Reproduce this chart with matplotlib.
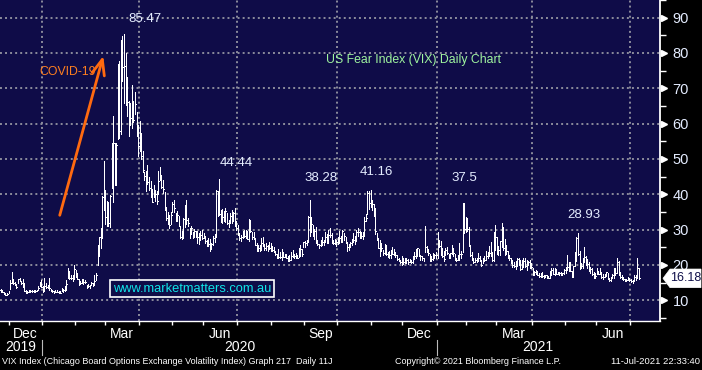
import numpy as np
import matplotlib
matplotlib.use('Agg')
import matplotlib.pyplot as plt
from matplotlib.patches import Polygon
from matplotlib.transforms import blended_transform_factory

SANS = ['Liberation Sans', 'DejaVu Sans']

C_BG = '#0f0c48'
C_GRID = '#8c8c9c'
C_TXT = '#e4ecff'

# trading days per month, Nov-2019 (from the 20th) .. Jul-2021 (to the 9th)
month_names = ['Nov', 'Dec', 'Jan', 'Feb', 'Mar', 'Apr', 'May', 'Jun', 'Jul', 'Aug', 'Sep',
               'Oct', 'Nov', 'Dec', 'Jan', 'Feb', 'Mar', 'Apr', 'May', 'Jun', 'Jul']
month_years = [2019, 2019, 2020, 2020, 2020, 2020, 2020, 2020, 2020, 2020, 2020,
               2020, 2020, 2020, 2021, 2021, 2021, 2021, 2021, 2021, 2021]
month_days = [7, 21, 21, 19, 22, 21, 20, 22, 22, 21, 21, 22, 20, 22, 19, 19, 23, 21, 20, 22, 6]

# daily VIX high / low / close
vix_high = [
    14.0, 13.3, 12.9, 12.4, 11.9, 12.0, 12.7,
    15.6, 17.99, 16.0, 15.1, 14.5, 15.9, 16.3, 15.4, 16.1, 15.0, 12.8, 12.7, 12.9, 12.9, 12.8, 12.8, 13.0, 12.9, 13.9, 15.2, 15.7,
    14.0, 16.2, 14.9, 14.2, 16.2, 13.2, 12.9, 12.6, 13.0, 12.9, 12.5, 12.5, 13.5, 13.2, 14.1, 15.6, 19.02, 18.4, 17.2, 17.0, 19.99,
    18.5, 17.6, 16.0, 15.3, 15.9, 16.0, 15.6, 14.4, 14.7, 14.4, 15.2, 14.9, 17.1, 17.8, 25.6, 28.0, 30.5, 39.6, 49.48,
    41.1, 38.2, 37.9, 39.9, 54.4, 62.1, 54.5, 54.6, 76.8, 77.6, 83.56, 84.8, 85.47, 79.98, 73.2, 66.4, 65.8, 71.0, 66.3, 69.0, 63.2, 59.6,
    60.6, 57.2, 52.3, 46.4, 46.7, 48.3, 45.0, 43.8, 41.6, 42.7, 41.2, 40.8, 46.5, 47.7, 45.5, 44.0, 40.6, 36.3, 35.0, 34.2, 35.0,
    37.9, 38.4, 34.6, 35.3, 33.9, 31.0, 29.7, 33.4, 37.0, 38.3, 33.4, 30.5, 30.9, 29.4, 30.2, 29.7, 29.7, 28.9, 29.7, 30.0,
    28.9, 28.3, 26.9, 27.5, 27.2, 26.2, 28.1, 28.6, 41.1, 41.0, 44.44, 35.6, 35.7, 35.2, 36.2, 34.6, 32.6, 34.7, 35.6, 35.0, 36.0, 32.3,
    31.2, 29.0, 28.5, 29.5, 30.0, 30.0, 29.6, 33.0, 32.7, 29.2, 29.2, 27.6, 26.3, 25.7, 25.5, 27.6, 28.0, 26.0, 26.3, 25.5, 26.5, 26.3,
    25.2, 25.1, 23.9, 23.1, 24.5, 23.6, 24.4, 23.6, 23.0, 23.0, 22.6, 22.8, 23.5, 24.3, 23.0, 23.3, 22.8, 24.8, 25.6, 24.6, 26.6,
    26.7, 27.0, 33.9, 38.28, 33.6, 31.3, 30.1, 30.6, 27.1, 26.0, 27.1, 27.9, 26.9, 29.4, 28.6, 29.9, 30.3, 29.0, 27.0, 27.3, 27.0,
    27.8, 29.6, 28.2, 30.0, 29.1, 27.9, 26.5, 25.8, 26.4, 27.3, 28.9, 28.2, 29.9, 30.3, 29.5, 29.2, 29.4, 33.6, 34.5, 40.8, 41.0, 41.16,
    38.5, 37.1, 36.1, 29.1, 27.4, 27.0, 26.1, 24.3, 25.8, 25.6, 23.6, 24.0, 24.2, 25.0, 24.6, 23.5, 22.7, 21.8, 21.4, 22.6,
    21.9, 22.0, 21.9, 21.6, 21.7, 21.3, 22.4, 23.6, 24.6, 24.8, 24.5, 22.8, 22.6, 22.0, 31.0, 25.2, 24.4, 23.0, 22.6, 23.3, 23.0, 23.6,
    29.2, 26.9, 26.8, 24.9, 23.9, 24.9, 25.1, 23.2, 23.3, 25.6, 24.9, 23.1, 21.9, 22.9, 26.3, 24.0, 37.5, 37.4, 33.6,
    33.2, 30.6, 25.4, 23.6, 22.0, 21.9, 22.0, 23.4, 22.5, 21.3, 22.0, 22.6, 23.8, 23.7, 25.2, 26.5, 23.6, 29.2, 31.2,
    28.0, 25.3, 26.7, 31.8, 30.8, 27.4, 25.6, 24.0, 22.9, 22.0, 21.5, 20.7, 21.0, 22.0, 21.8, 21.3, 21.3, 21.9, 22.0, 21.4, 21.2, 21.3, 20.5,
    19.0, 18.4, 18.6, 18.4, 17.6, 17.6, 17.9, 17.2, 17.1, 17.1, 16.9, 18.4, 19.2, 19.2, 19.0, 18.8, 18.0, 18.1, 18.0, 17.7, 18.8,
    19.4, 22.7, 20.9, 20.8, 18.4, 19.7, 23.7, 27.8, 28.93, 24.0, 20.4, 21.9, 25.1, 22.5, 21.6, 20.7, 19.4, 19.0, 18.0, 17.7,
    19.0, 18.4, 19.2, 18.0, 17.5, 17.3, 18.0, 17.8, 16.3, 16.7, 17.3, 19.2, 19.0, 21.8, 21.1, 18.0, 17.0, 16.6, 16.0, 16.1, 16.6, 16.2,
    16.1, 15.7, 17.0, 17.0, 21.99, 19.2,
]
vix_low = [
    12.2, 12.4, 12.2, 11.7, 11.4, 11.4, 11.9,
    13.2, 15.0, 14.5, 14.2, 13.5, 14.9, 15.4, 14.7, 13.6, 12.5, 11.9, 12.1, 12.3, 12.3, 12.3, 12.4, 12.4, 12.5, 12.8, 13.9, 13.6,
    12.4, 13.0, 13.5, 13.4, 12.9, 12.5, 12.4, 12.1, 12.2, 12.2, 12.0, 11.9, 12.6, 12.3, 12.6, 12.9, 16.2, 16.1, 15.9, 15.3, 15.9,
    16.5, 15.9, 14.4, 14.6, 14.8, 14.6, 14.9, 13.4, 13.8, 13.4, 14.2, 14.1, 14.4, 15.6, 19.9, 22.4, 24.9, 27.6, 35.5,
    31.5, 31.0, 31.1, 30.8, 41.9, 37.7, 42.6, 42.6, 55.6, 56.0, 57.0, 72.0, 65.7, 65.3, 62.2, 56.4, 59.6, 58.7, 60.4, 62.7, 56.5, 50.9,
    52.1, 50.1, 46.3, 44.0, 41.0, 42.8, 41.3, 39.1, 37.8, 39.3, 38.0, 37.2, 40.0, 44.0, 41.8, 40.3, 35.6, 32.8, 31.6, 30.5, 31.5,
    35.0, 35.0, 32.3, 32.5, 31.0, 27.7, 27.3, 27.9, 30.6, 31.6, 31.1, 27.5, 28.7, 27.6, 27.9, 28.0, 26.3, 25.9, 26.9, 27.3,
    27.5, 26.3, 25.2, 25.4, 24.0, 24.9, 25.6, 26.4, 27.8, 33.8, 34.0, 32.1, 31.9, 32.5, 32.0, 31.5, 30.6, 31.9, 31.9, 32.4, 31.0, 30.0,
    28.5, 27.0, 26.7, 27.6, 27.8, 27.5, 27.2, 26.8, 29.3, 27.2, 27.3, 25.6, 24.0, 23.9, 23.9, 24.2, 25.4, 24.3, 24.2, 24.0, 24.5, 24.0,
    23.9, 23.5, 22.8, 22.0, 21.9, 22.0, 21.5, 22.2, 22.1, 21.9, 21.2, 21.0, 21.3, 22.3, 22.0, 21.8, 21.8, 22.3, 22.5, 22.6, 25.0,
    25.0, 25.5, 26.6, 28.3, 29.4, 28.2, 27.4, 26.3, 25.5, 24.9, 25.2, 25.7, 25.6, 26.5, 26.1, 26.1, 27.9, 26.2, 25.8, 26.0, 25.2,
    25.9, 26.3, 26.5, 26.6, 27.1, 26.1, 24.0, 24.1, 25.0, 25.7, 26.4, 26.0, 26.8, 28.2, 27.6, 27.5, 27.3, 28.2, 32.3, 34.5, 35.8, 36.5,
    35.4, 33.7, 28.6, 26.9, 24.7, 22.4, 24.0, 22.7, 23.2, 22.9, 22.3, 22.0, 21.9, 23.0, 22.7, 22.3, 21.4, 21.0, 20.4, 20.0,
    20.3, 20.6, 20.5, 20.3, 20.8, 20.5, 20.4, 21.6, 22.0, 22.6, 22.6, 21.4, 21.4, 21.0, 23.5, 23.6, 22.8, 21.2, 21.2, 21.4, 22.0, 21.9,
    22.0, 25.0, 22.8, 22.2, 21.0, 22.8, 23.0, 22.0, 21.8, 23.0, 22.6, 21.5, 21.0, 21.5, 21.3, 22.0, 23.6, 29.0, 29.3,
    29.6, 25.4, 22.6, 21.5, 20.5, 20.8, 20.9, 21.0, 21.1, 19.8, 20.6, 21.1, 21.3, 21.8, 22.4, 22.5, 21.2, 21.0, 24.3,
    23.1, 22.9, 22.9, 25.0, 24.3, 22.8, 23.1, 22.0, 21.5, 20.6, 19.3, 19.3, 18.9, 19.7, 19.9, 18.6, 18.9, 19.4, 19.4, 18.6, 19.9, 19.0, 19.1,
    17.2, 17.1, 17.3, 17.0, 16.6, 16.6, 16.7, 16.4, 16.5, 16.4, 16.2, 16.3, 17.1, 17.3, 17.0, 17.3, 17.4, 17.2, 17.0, 17.0, 17.3,
    17.8, 18.6, 18.4, 18.2, 16.6, 16.8, 19.6, 21.2, 22.9, 18.7, 19.0, 19.2, 20.7, 20.0, 19.0, 18.2, 17.8, 17.2, 16.4, 16.2,
    17.4, 17.4, 17.5, 16.4, 16.1, 16.6, 16.8, 16.0, 15.4, 15.4, 16.3, 16.4, 17.0, 17.6, 17.2, 16.4, 16.1, 15.8, 15.3, 15.5, 15.6, 15.3,
    15.1, 14.9, 15.3, 15.8, 16.4, 16.1,
]
vix_close = [
    12.78, 12.73, 12.34, 11.87, 11.54, 11.75, 12.62,
    14.91, 15.96, 14.80, 14.52, 13.62, 15.86, 15.68, 14.99, 13.94, 12.63, 12.14, 12.29, 12.58, 12.50, 12.51, 12.61, 12.67, 12.65, 13.43, 14.82, 13.78,
    12.47, 14.02, 13.85, 13.79, 13.45, 12.54, 12.56, 12.32, 12.39, 12.42, 12.32, 12.10, 12.85, 12.91, 12.98, 14.56, 18.23, 16.28, 16.39, 15.49, 18.84,
    17.97, 16.05, 15.15, 14.96, 15.47, 15.04, 15.18, 13.74, 14.15, 13.68, 14.83, 14.38, 15.56, 17.08, 25.03, 27.85, 27.56, 39.16, 40.11,
    33.42, 36.82, 31.99, 39.62, 41.94, 54.46, 47.30, 53.90, 75.47, 57.83, 82.69, 75.91, 76.45, 72.00, 66.04, 61.59, 61.67, 63.95, 61.00, 65.54, 57.08, 53.54,
    57.06, 50.91, 46.80, 45.24, 46.70, 43.35, 41.67, 41.17, 37.76, 40.84, 40.11, 38.15, 43.83, 45.41, 41.98, 41.38, 35.93, 33.29, 33.57, 31.23, 34.15,
    37.19, 35.97, 33.61, 34.12, 31.44, 27.98, 27.57, 33.04, 35.28, 32.61, 31.89, 29.30, 30.53, 27.99, 29.53, 28.16, 28.01, 27.62, 28.59, 27.51,
    28.23, 26.84, 25.66, 25.81, 24.52, 25.81, 27.57, 27.57, 40.79, 36.09, 34.40, 33.67, 33.47, 32.94, 35.12, 31.77, 31.37, 33.84, 32.22, 34.73, 31.78, 30.43,
    28.62, 27.68, 27.94, 29.43, 28.08, 29.26, 27.29, 32.19, 29.52, 27.76, 28.00, 25.68, 24.46, 24.84, 24.32, 26.08, 25.84, 24.74, 25.44, 24.10, 24.76, 24.46,
    24.28, 23.76, 22.99, 22.65, 22.21, 22.13, 24.03, 22.28, 22.59, 22.05, 21.35, 21.51, 22.54, 22.72, 22.54, 22.37, 22.03, 24.47, 24.47, 22.96, 26.41,
    26.12, 26.57, 33.60, 30.75, 31.46, 28.81, 29.71, 26.87, 25.85, 25.59, 26.04, 26.46, 25.83, 27.78, 26.86, 28.58, 28.43, 26.38, 26.19, 26.27, 26.37,
    26.70, 27.63, 27.96, 29.48, 28.06, 26.36, 25.00, 25.07, 26.07, 26.40, 26.97, 27.41, 29.18, 29.35, 28.65, 28.11, 27.55, 32.46, 33.35, 40.28, 37.59, 38.02,
    37.13, 35.55, 29.57, 27.58, 24.86, 25.75, 24.80, 23.45, 25.35, 23.10, 22.45, 22.71, 23.84, 23.11, 23.70, 22.66, 21.64, 21.25, 20.84, 20.57,
    20.77, 21.17, 21.28, 20.79, 21.30, 20.68, 22.27, 22.52, 23.31, 24.72, 22.89, 22.50, 21.93, 21.57, 25.16, 24.23, 23.31, 21.53, 21.70, 23.08, 22.77, 22.75,
    26.97, 25.34, 25.07, 22.37, 21.56, 24.08, 23.33, 22.21, 23.25, 24.34, 23.24, 21.58, 21.32, 21.91, 23.19, 23.02, 37.21, 30.21, 33.09,
    30.24, 25.56, 22.91, 21.77, 20.87, 21.24, 21.63, 21.99, 21.25, 19.97, 21.46, 21.50, 22.49, 22.05, 23.45, 23.11, 21.34, 28.89, 27.95,
    23.35, 24.10, 26.67, 28.57, 24.66, 25.47, 24.03, 22.56, 21.91, 20.69, 20.03, 19.79, 19.23, 21.58, 20.95, 18.88, 20.30, 21.20, 19.81, 18.86, 20.74, 19.61, 19.40,
    17.33, 17.91, 18.12, 17.16, 16.95, 16.69, 16.91, 16.65, 16.99, 16.57, 16.25, 17.30, 18.68, 17.50, 18.71, 17.33, 17.64, 17.56, 17.28, 17.61, 18.61,
    18.31, 19.48, 19.15, 18.39, 16.69, 19.66, 21.84, 27.59, 23.13, 18.81, 19.72, 21.34, 22.18, 20.67, 20.15, 18.40, 18.84, 17.36, 16.74, 16.76,
    17.90, 17.48, 18.04, 16.42, 16.42, 17.07, 17.89, 16.10, 15.65, 16.39, 17.02, 18.15, 17.75, 20.70, 17.89, 16.66, 16.32, 15.97, 15.62, 15.76, 16.02, 15.83,
    15.48, 15.07, 16.44, 16.20, 19.00, 16.18,
]

# highs that carry a label on the chart
peak_values = [85.47, 44.44, 38.28, 41.16, 37.5, 28.93]
peak_offsets = [(15, 6), (12, 7), (8, 12), (4, 9), (1, 14), (4, 9)]   # points

n = min(len(vix_high), len(vix_low), len(vix_close))
days = np.arange(n)

fig = plt.figure(figsize=(7.02, 3.70), dpi=100)
fig.patch.set_facecolor('black')
ax = fig.add_axes([0, 1 - 321 / 370, 660 / 702, 321 / 370])
ax.set_facecolor(C_BG)
ax.set_xlim(0.5, 0.5 + 660 / 1.56)
ax.set_ylim(4.1, 93.05)

# month boundaries / centres
starts = np.concatenate([[0], np.cumsum(month_days)[:-1]])
bounds = starts - 0.5
centres = starts + (np.array(month_days) - 1) / 2.0
quarter = [i for i, m in enumerate(month_names) if m in ('Dec', 'Mar', 'Jun', 'Sep')]

# grid
for v in range(10, 100, 10):
    ax.axhline(v, color=C_GRID, lw=1.4, ls=(0, (1, 1.6)), zorder=1)
for i in quarter:
    if i + 1 < len(bounds):
        ax.axvline(bounds[i + 1], color=C_GRID, lw=1.4, ls=(0, (1, 1.6)), zorder=1)

# OHLC-style bars
ax.vlines(days, vix_low[:n], vix_high[:n], color='white', lw=0.7, zorder=3, antialiased=False)
ax.hlines(vix_close[:n], days, days + 0.5, color='white', lw=0.7, zorder=3, antialiased=False)

# axes cosmetics
for s in ['top', 'left']:
    ax.spines[s].set_visible(False)
ax.spines['right'].set_color('white')
ax.spines['right'].set_linewidth(1.3)
ax.spines['bottom'].set_color('white')
ax.spines['bottom'].set_linewidth(1.0)

ax.yaxis.tick_right()
ax.set_yticks(range(10, 100, 10))
ax.set_yticks(range(5, 100, 10), minor=True)
ax.tick_params(axis='y', which='major', length=0, pad=9, labelcolor=C_TXT, labelsize=10.5)
ax.tick_params(axis='y', which='minor', length=4, width=1, color='white', direction='out')
for lab in ax.get_yticklabels():
    lab.set_family(SANS)
ytr = blended_transform_factory(ax.transAxes, ax.transData)
ax.plot(np.full(9, 1 + 3.5 / 660), range(10, 100, 10), ls='none', marker='>', ms=5,
        color='white', mec='white', transform=ytr, clip_on=False, zorder=5)

ax.set_xticks([centres[i] for i in quarter])
ax.set_xticklabels([month_names[i] for i in quarter], family=SANS, fontsize=10, color='white')
ax.set_xticks(bounds[1:], minor=True)
ax.tick_params(axis='x', which='major', length=0, pad=4)
ax.tick_params(axis='x', which='minor', length=3, width=1, color='white', direction='out')

# year row
xtr = blended_transform_factory(ax.transData, ax.transAxes)
x0, x1 = ax.get_xlim()
for yr in sorted(set(month_years)):
    idx = [i for i, y in enumerate(month_years) if y == yr]
    a = max(bounds[idx[0]], x0)
    b = min(bounds[idx[-1]] + month_days[idx[-1]], x1)
    ax.text((a + b) / 2, -0.081, str(yr), transform=xtr, ha='center', va='center',
            color='white', fontsize=10, family=SANS, clip_on=False)
    if idx[0] > 0:
        ax.plot([bounds[idx[0]]] * 2, [-0.058, -0.105], color='#bbbbbb', lw=0.8,
                transform=xtr, clip_on=False)

# peak labels
for v, off in zip(peak_values, peak_offsets):
    i = vix_high.index(v)
    ax.annotate(f'{v:g}', xy=(i, v), xytext=off, textcoords='offset points',
                ha='center', va='bottom', color=C_TXT, fontsize=9.5, family=SANS, zorder=6)

# annotations
ax.annotate('', xy=(0.1576, 0.834), xytext=(0.0894, 0.321), xycoords='axes fraction',
            arrowprops=dict(arrowstyle='->,head_length=1.1,head_width=0.45',
                            color='#ff6a10', lw=2), zorder=6)
ax.text(0.059, 0.776, 'COVID-19', transform=ax.transAxes, color='#ff7f1f',
        fontsize=8.8, family=SANS, va='center', ha='left')
ax.text(0.494, 0.813, 'US Fear Index (VIX) Daily Chart', transform=ax.transAxes,
        color='#9ff59f', fontsize=8.8, family=SANS, va='center', ha='left')
ax.text(0.291, 0.101, 'www.marketmatters.com.au', transform=ax.transAxes,
        color='#10e4e8', fontsize=9.3, family=SANS, va='center', ha='center',
        bbox=dict(boxstyle='square,pad=0.2', fc=C_BG, ec='white', lw=1.2), zorder=6)

# last value tag
last = vix_close[n - 1]
ftr = blended_transform_factory(fig.transFigure, ax.transData)
hh = 9.5 / 3.61
tag = Polygon([(663 / 702, last), (670 / 702, last + hh), (701 / 702, last + hh),
               (701 / 702, last - hh), (670 / 702, last - hh)], closed=True,
              transform=ftr, fc='white', ec='white', lw=0.5, clip_on=False, zorder=7)
fig.add_artist(tag)
fig.text(686 / 702, last, f'{last:.2f}', transform=ftr, ha='center', va='center',
         color='#10104a', fontsize=9, family=SANS, zorder=8)

# footer
fy = 1 - 361 / 370
fig.text(0.003, fy, 'VIX Index (Chicago Board Options Exchange Volatility Index) Graph 217  Daily 11J',
         color='white', fontsize=6.5, family=SANS, va='center', ha='left')
fig.text(395 / 702, fy, 'Copyright\u00a9 2021 Bloomberg Finance L.P.',
         color='white', fontsize=6.5, family=SANS, va='center', ha='left')
fig.text(0.997, fy, '11-Jul-2021 22:33:40',
         color='white', fontsize=6.8, family=SANS, va='center', ha='right')

fig.savefig('out.png', dpi=100, facecolor='black')
